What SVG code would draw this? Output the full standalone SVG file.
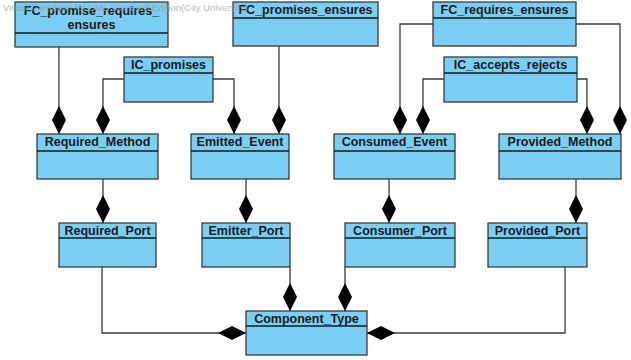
<svg xmlns="http://www.w3.org/2000/svg" width="631" height="360" viewBox="0 0 631 360">
<style>
.box{fill:#7acef3;stroke:#3a3a3a;stroke-width:1.3}
.div{stroke:#1a1a1a;stroke-width:1.3}
.t{font-family:"Liberation Sans",Arial,sans-serif;font-weight:bold;font-size:12.5px;fill:#1a1a1a;text-anchor:middle}
.c{fill:none;stroke:#3a3a3a;stroke-width:1.3}
.wm{font-family:"Liberation Sans",Arial,sans-serif;font-size:9.5px;fill:#999;opacity:0.7}
</style>
<defs>
<marker id="dia" viewBox="0 -7 28 14" markerWidth="28" markerHeight="14" refX="28" refY="0" orient="auto" markerUnits="userSpaceOnUse">
<path d="M0,0 L14,-7 L28,0 L14,7 Z" fill="#000"/>
</marker>
</defs>
<rect width="631" height="360" fill="#fff"/>
<g id="connectors">
<path class="c" d="M59,47 V134" marker-end="url(#dia)"/>
<path class="c" d="M124,79 H103 V134" marker-end="url(#dia)"/>
<path class="c" d="M213,79 H234 V134" marker-end="url(#dia)"/>
<path class="c" d="M279,46 V134" marker-end="url(#dia)"/>
<path class="c" d="M433,24 H400 V134" marker-end="url(#dia)"/>
<path class="c" d="M444,79 H423 V134" marker-end="url(#dia)"/>
<path class="c" d="M577,79 H587 V134" marker-end="url(#dia)"/>
<path class="c" d="M576,24 H620 V134" marker-end="url(#dia)"/>
<path class="c" d="M103,179 V223" marker-end="url(#dia)"/>
<path class="c" d="M246,179 V223" marker-end="url(#dia)"/>
<path class="c" d="M389,179 V223" marker-end="url(#dia)"/>
<path class="c" d="M576,179 V223" marker-end="url(#dia)"/>
<path class="c" d="M290,267 V311" marker-end="url(#dia)"/>
<path class="c" d="M345,267 V311" marker-end="url(#dia)"/>
<path class="c" d="M102,267 V333 H246" marker-end="url(#dia)"/>
<path class="c" d="M565,267 V333 H367" marker-end="url(#dia)"/>
</g>
<g id="FC_promise_requires_ensures">
<rect class="box" x="15" y="2" width="153" height="45"/>
<line class="div" x1="15" y1="33" x2="168" y2="33"/>
<text class="t" x="91.5" y="15">FC_promise_requires_</text>
<text class="t" x="91.5" y="29">ensures</text>
</g>
<g id="FC_promises_ensures">
<rect class="box" x="233" y="2" width="145" height="44"/>
<line class="div" x1="233" y1="18" x2="378" y2="18"/>
<text class="t" x="305.5" y="14">FC_promises_ensures</text>
</g>
<g id="FC_requires_ensures">
<rect class="box" x="433" y="2" width="143" height="44"/>
<line class="div" x1="433" y1="18" x2="576" y2="18"/>
<text class="t" x="504.5" y="14">FC_requires_ensures</text>
</g>
<g id="IC_promises">
<rect class="box" x="124" y="57" width="89" height="45"/>
<line class="div" x1="124" y1="73" x2="213" y2="73"/>
<text class="t" x="168.5" y="69">IC_promises</text>
</g>
<g id="IC_accepts_rejects">
<rect class="box" x="444" y="57" width="133" height="45"/>
<line class="div" x1="444" y1="73" x2="577" y2="73"/>
<text class="t" x="510.5" y="69">IC_accepts_rejects</text>
</g>
<g id="Required_Method">
<rect class="box" x="37" y="134" width="121" height="45"/>
<line class="div" x1="37" y1="151" x2="158" y2="151"/>
<text class="t" x="97.5" y="146">Required_Method</text>
</g>
<g id="Emitted_Event">
<rect class="box" x="191" y="134" width="98" height="45"/>
<line class="div" x1="191" y1="151" x2="289" y2="151"/>
<text class="t" x="240" y="146">Emitted_Event</text>
</g>
<g id="Consumed_Event">
<rect class="box" x="334" y="134" width="121" height="45"/>
<line class="div" x1="334" y1="151" x2="455" y2="151"/>
<text class="t" x="394.5" y="146">Consumed_Event</text>
</g>
<g id="Provided_Method">
<rect class="box" x="499" y="134" width="122" height="45"/>
<line class="div" x1="499" y1="151" x2="621" y2="151"/>
<text class="t" x="560" y="146">Provided_Method</text>
</g>
<g id="Required_Port">
<rect class="box" x="59" y="223" width="97" height="44"/>
<line class="div" x1="59" y1="238" x2="156" y2="238"/>
<text class="t" x="107.5" y="235">Required_Port</text>
</g>
<g id="Emitter_Port">
<rect class="box" x="202" y="223" width="88" height="44"/>
<line class="div" x1="202" y1="238" x2="290" y2="238"/>
<text class="t" x="246" y="235">Emitter_Port</text>
</g>
<g id="Consumer_Port">
<rect class="box" x="345" y="223" width="110" height="44"/>
<line class="div" x1="345" y1="238" x2="455" y2="238"/>
<text class="t" x="400" y="235">Consumer_Port</text>
</g>
<g id="Provided_Port">
<rect class="box" x="488" y="223" width="99" height="44"/>
<line class="div" x1="488" y1="238" x2="587" y2="238"/>
<text class="t" x="537.5" y="235">Provided_Port</text>
</g>
<g id="Component_Type">
<rect class="box" x="246" y="311" width="121" height="44"/>
<line class="div" x1="246" y1="326" x2="367" y2="326"/>
<text class="t" x="306.5" y="323">Component_Type</text>
</g>
<text class="wm" x="3" y="11">Visual Paradigm for UML Standard Edition(City University)</text>
</svg>
